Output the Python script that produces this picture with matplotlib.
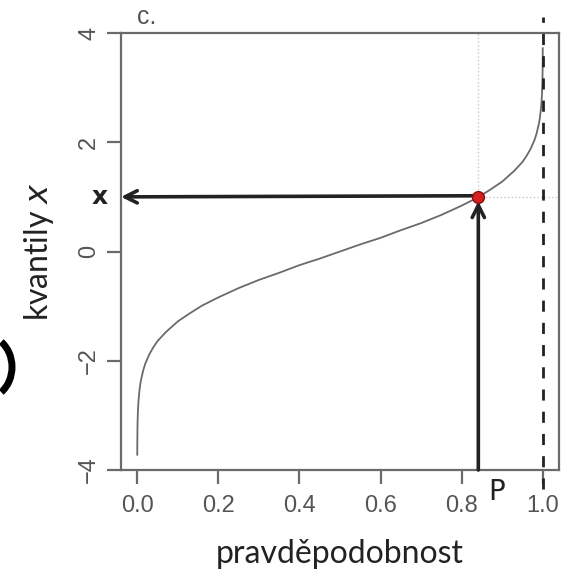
import matplotlib
matplotlib.use("Agg")
import matplotlib.pyplot as plt
from matplotlib.patches import Arc

# quantile function of the standard normal, read at these probabilities
prob = [0.0001, 0.0002, 0.0005, 0.001, 0.002, 0.003, 0.005, 0.0075, 0.01,
        0.015, 0.02, 0.03, 0.04, 0.05, 0.07, 0.1, 0.13, 0.16, 0.2, 0.25,
        0.3, 0.35, 0.4, 0.45, 0.5, 0.55, 0.6, 0.65, 0.7, 0.75, 0.8, 0.84,
        0.87, 0.9, 0.93, 0.95, 0.96, 0.97, 0.98, 0.985, 0.99, 0.9925,
        0.995, 0.997, 0.998, 0.999, 0.9995, 0.9998, 0.9999]
quant = [-3.72, -3.54, -3.29, -3.09, -2.88, -2.75, -2.58, -2.43, -2.33,
         -2.17, -2.05, -1.88, -1.75, -1.64, -1.48, -1.28, -1.13, -0.99,
         -0.84, -0.67, -0.52, -0.39, -0.25, -0.13, 0.0, 0.13, 0.25, 0.39,
         0.52, 0.67, 0.84, 0.99, 1.13, 1.28, 1.48, 1.64, 1.75, 1.88, 2.05,
         2.17, 2.33, 2.43, 2.58, 2.75, 2.88, 3.09, 3.29, 3.54, 3.72]

p_pick = 0.841
x_pick = 1.0

xticks = [0.0, 0.2, 0.4, 0.6, 0.8, 1.0]
xtick_labels = ["0.0", "0.2", "0.4", "0.6", "0.8", "1.0"]
yticks = [-4, -2, 0, 2, 4]
ytick_labels = ["\u22124", "\u22122", "0", "2", "4"]

grey = "#555555"
ink = "#222222"

fig = plt.figure(figsize=(5.62, 5.75), dpi=100)
ax = fig.add_axes([0.2153, 0.1826, 0.7794, 0.76])

ax.plot(prob, quant, color="#6a6a6a", lw=1.3)

# dotted guides of the printed figure
ax.plot([p_pick, p_pick], [x_pick, 4], color="#c8c8c8", lw=1, ls=":")
ax.plot([p_pick, 1.04], [x_pick, x_pick], color="#c8c8c8", lw=1, ls=":")

# hand drawn arrows: p up to the curve, then across to the quantile
ax.annotate("", xy=(p_pick, x_pick - 0.08), xytext=(p_pick, -4.0),
            arrowprops=dict(arrowstyle="->", color=ink, lw=2.6,
                            mutation_scale=22, shrinkA=0, shrinkB=0),
            annotation_clip=False)
ax.annotate("", xy=(-0.04, x_pick), xytext=(p_pick - 0.01, x_pick + 0.02),
            arrowprops=dict(arrowstyle="->", color=ink, lw=2.6,
                            mutation_scale=22, shrinkA=0, shrinkB=0),
            annotation_clip=False)

# hand drawn dashed line at p = 1
ax.plot([1.0, 1.0], [-4.35, 4.3], color=ink, lw=2, ls=(0, (4, 4)),
        clip_on=False)

ax.plot([p_pick], [x_pick], "o", ms=8.5, color="#d42020", mec="#8a1010",
        zorder=5)

ax.text(-0.092, x_pick, "x", fontsize=18, fontweight="heavy", color=ink,
        ha="center", va="center", clip_on=False)
ax.text(0.885, -4.4, "P", fontsize=20, color=ink, ha="center", va="center",
        fontfamily="DejaVu Sans", clip_on=False)
ax.text(0.0, 4.08, "c.", fontsize=18, color=grey, ha="left", va="bottom",
        fontfamily="Liberation Sans")

# bracket stroke cut off by the left edge
fig.add_artist(Arc((-16 / 562, 1 - 367 / 575), 56 / 562, 64 / 575,
                   theta1=-55, theta2=55, lw=5, color="black",
                   transform=fig.transFigure))

ax.set_xlim(-0.04, 1.04)
ax.set_ylim(-4, 4)
ax.set_xticks(xticks)
ax.set_xticklabels(xtick_labels)
ax.set_yticks(yticks)
ax.set_yticklabels(ytick_labels, rotation=90, va="center")

for s in ax.spines.values():
    s.set_color("#6a6a6a")
    s.set_linewidth(1.6)
ax.tick_params(axis="both", length=10, width=1.6, color="#6a6a6a",
               labelcolor=grey, labelsize=17)
ax.tick_params(axis="x", pad=8)
ax.tick_params(axis="y", pad=5)
for lab in ax.get_xticklabels() + ax.get_yticklabels():
    lab.set_fontfamily("Liberation Sans")

ax.set_xlabel("pravděpodobnost", fontsize=23, fontfamily="Lato", color="#222222",
              labelpad=16)
ax.set_ylabel("kvantily $x$", fontsize=23, fontfamily="Lato", color="#222222",
              labelpad=16)

fig.savefig("out.png", dpi=100)
